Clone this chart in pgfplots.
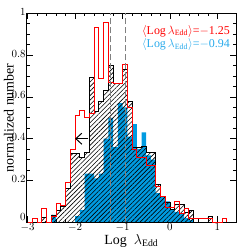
\documentclass[border=0pt]{standalone}
\usepackage{pgfplots}
\pgfplotsset{compat=1.18}
\usetikzlibrary{patterns.meta,arrows.meta}
\usepackage{fontspec}
\setmainfont{Liberation Serif}
\definecolor{myblue}{RGB}{0,155,225}
\definecolor{txtblue}{RGB}{40,170,235}
\begin{document}
\begin{tikzpicture}
\useasboundingbox (0,0) rectangle (249bp,249bp);
\begin{axis}[
  at={(26.7bp,26.7bp)}, anchor=south west,
  width=209.3bp, height=209bp, scale only axis,
  xmin=-3.02, xmax=1.392, ymin=0, ymax=1,
  xtick={-3,-2,-1,0,1}, ytick={0.2,0.4,0.6,0.8,1},
  extra y ticks={0},
  extra y tick style={yticklabel style={yshift=3.5bp}},
  minor x tick num=4, minor y tick num=3,
  tick align=inside, xtick pos=both, ytick pos=both,
  major tick length=6bp, minor tick length=3bp,
  every tick/.style={black, line width=0.6bp},
  axis line style={line width=0.8bp},
  tick label style={font=\fontsize{10.5}{12}\selectfont, inner sep=1bp},
  yticklabel style={yshift=1.5bp},
  xlabel={Log\ \ $\lambda_{\mathrm{Edd}}$},
  ylabel={normalized number},
  label style={font=\fontsize{14}{16}\selectfont},
  xlabel style={at={(axis description cs:0.5,-0.105)}, anchor=base},
  ylabel style={at={(axis description cs:-0.085,0.5)}, anchor=center},
  clip=true,
]
% blue sample (plain fill)
\addplot[const plot, fill=myblue, draw=none] coordinates {
(-3.0,0) (-2.5,0.035) (-2.4,0) (-2.0,0.03) (-1.9,0.06) (-1.8,0.233) (-1.7,0.233)
(-1.6,0.21) (-1.5,0.233) (-1.4,0.40) (-1.3,0.50) (-1.2,0.36) (-1.1,0.57) (-1.0,0.55)
(-0.9,0.41) (-0.8,0.47) (-0.7,0.35) (-0.6,0.43) (-0.5,0.32) (-0.4,0.30) (-0.3,0.14)
(-0.2,0.12) (-0.1,0.10) (0.0,0.06) (0.1,0.05) (0.2,0.04) (0.3,0.02) (0.4,0.01) (0.5,0)
} \closedcycle;
% black hatched sample
\addplot[const plot, draw=black, line width=0.8bp,
  pattern={Lines[angle=45,distance=3.2bp,line width=0.6bp]}, pattern color=black] coordinates {
(-3.0,0) (-2.7,0.025) (-2.6,0) (-2.5,0.035) (-2.4,0.055) (-2.3,0.075) (-2.2,0.16)
(-2.1,0.33) (-2.0,0.33) (-1.9,0.31) (-1.8,0.335) (-1.7,0.695) (-1.6,0.53) (-1.5,0.58)
(-1.4,0.63) (-1.3,0.75) (-1.2,0.665) (-1.1,0.665) (-1.0,0.73) (-0.9,0.58) (-0.8,0.36)
(-0.7,0.36) (-0.6,0.365) (-0.5,0.335) (-0.4,0.335) (-0.3,0.18) (-0.2,0.125) (-0.1,0.095)
(0.0,0.06) (0.1,0.086) (0.2,0.086) (0.3,0.046) (0.4,0.057) (0.5,0) (0.8,0.03) (0.9,0)
} \closedcycle;
% red open histogram
\addplot[const plot, draw=red, line width=0.9bp] coordinates {
(-3.0,0) (-2.9,0.02) (-2.8,0) (-2.7,0.065) (-2.6,0) (-2.5,0.03) (-2.4,0.09) (-2.3,0.08)
(-2.2,0.19) (-2.1,0.35) (-2.0,0.51) (-1.9,0.535) (-1.8,0.50) (-1.7,0.52) (-1.6,0.93)
(-1.5,0.69) (-1.4,0.955) (-1.3,0.67) (-1.2,0.665) (-1.1,0.665) (-1.0,0.755) (-0.9,0.55)
(-0.8,0.35) (-0.7,0.31) (-0.6,0.31) (-0.5,0.27) (-0.4,0.27) (-0.3,0.17) (-0.2,0.126)
(-0.1,0.07) (0.0,0.07) (0.1,0.10) (0.2,0.04) (0.3,0.065) (0.4,0.02) (0.5,0.02) (0.6,0.02)
(0.7,0.02) (0.8,0.02) (0.9,0) (1.0,0) (1.1,0.02) (1.2,0)
};
% mean lines
\addplot[gray, line width=1.1bp, dash pattern=on 6bp off 3bp] coordinates {(-1.25,0) (-1.25,1)};
\addplot[gray, line width=1.1bp, dash pattern=on 6bp off 3bp] coordinates {(-0.94,0) (-0.94,1)};
% arrow
\addplot[black, line width=1bp, -{Straight Barb[length=6bp,width=11bp]}] coordinates {(-1.72,0.40) (-2.0,0.40)};
\node[anchor=east, text=red, font=\fontsize{12}{14}\selectfont, inner sep=0pt] at (axis description cs:0.971,0.915)
  {$\langle$Log\,$\lambda_{\mathrm{Edd}}\rangle$=$-$1.25};
\node[anchor=east, text=txtblue, font=\fontsize{12}{14}\selectfont, inner sep=0pt] at (axis description cs:0.971,0.85)
  {$\langle$Log\,$\lambda_{\mathrm{Edd}}\rangle$=$-$0.94};
\end{axis}
\end{tikzpicture}
\end{document}
